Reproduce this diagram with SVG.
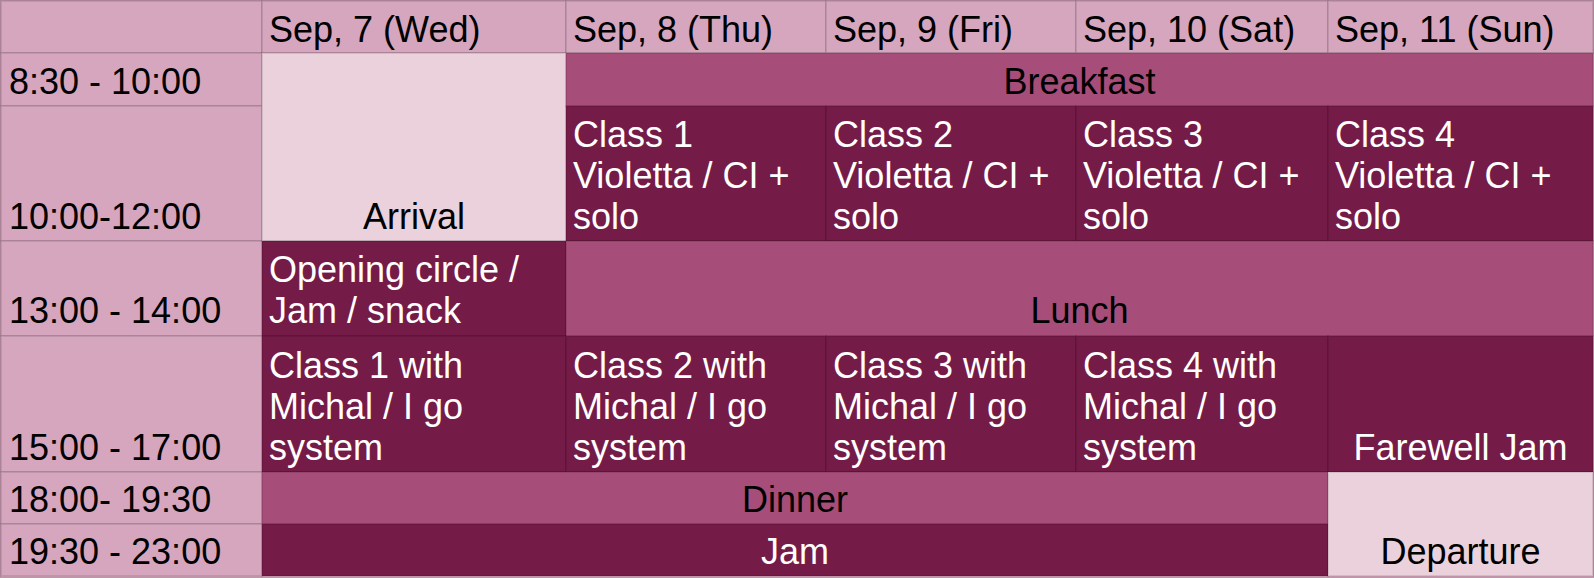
<svg xmlns="http://www.w3.org/2000/svg" width="1594" height="578" viewBox="0 0 1594 578">
<style>
rect{stroke:#000;stroke-opacity:0.1;stroke-width:2}
.h{fill:#d5a6bd}
.l{fill:#ead1dc}
.m{fill:#a64d79}
.d{fill:#741b47}
text{font-family:"Liberation Sans",Arial,sans-serif;font-size:36px;fill:#000}
.w{fill:#fff}
.c{text-anchor:middle}
</style>
<rect x="0" y="0" width="1594" height="578" fill="#d5a6bd" stroke="none"/>
<g id="header">
<rect class="h" x="1" y="1" width="261" height="52"/>
<rect class="h" x="262" y="1" width="304" height="52"/><text x="269" y="42">Sep, 7 (Wed)</text>
<rect class="h" x="566" y="1" width="260" height="52"/><text x="573" y="42">Sep, 8 (Thu)</text>
<rect class="h" x="826" y="1" width="250" height="52"/><text x="833" y="42">Sep, 9 (Fri)</text>
<rect class="h" x="1076" y="1" width="252" height="52"/><text x="1083" y="42">Sep, 10 (Sat)</text>
<rect class="h" x="1328" y="1" width="265" height="52"/><text x="1335" y="42">Sep, 11 (Sun)</text>
</g>
<g id="times">
<rect class="h" x="1" y="53" width="261" height="53"/><text x="9" y="94">8:30 - 10:00</text>
<rect class="h" x="1" y="106" width="261" height="135"/><text x="9" y="229">10:00-12:00</text>
<rect class="h" x="1" y="241" width="261" height="95"/><text x="9" y="323">13:00 - 14:00</text>
<rect class="h" x="1" y="336" width="261" height="136"/><text x="9" y="460">15:00 - 17:00</text>
<rect class="h" x="1" y="472" width="261" height="52"/><text x="9" y="512">18:00- 19:30</text>
<rect class="h" x="1" y="524" width="261" height="52"/><text x="9" y="564">19:30 - 23:00</text>
</g>
<g id="arrival"><rect class="l" x="262" y="53" width="304" height="188"/><text class="c" x="414" y="229">Arrival</text></g>
<g id="breakfast"><rect class="m" x="566" y="53" width="1027" height="53"/><text class="c" x="1079.5" y="94">Breakfast</text></g>
<g id="class1"><rect class="d" x="566" y="106" width="260" height="135"/><text class="w" x="573" y="147">Class 1</text><text class="w" x="573" y="188">Violetta / CI +</text><text class="w" x="573" y="229">solo</text></g>
<g id="class2"><rect class="d" x="826" y="106" width="250" height="135"/><text class="w" x="833" y="147">Class 2</text><text class="w" x="833" y="188">Violetta / CI +</text><text class="w" x="833" y="229">solo</text></g>
<g id="class3"><rect class="d" x="1076" y="106" width="252" height="135"/><text class="w" x="1083" y="147">Class 3</text><text class="w" x="1083" y="188">Violetta / CI +</text><text class="w" x="1083" y="229">solo</text></g>
<g id="class4"><rect class="d" x="1328" y="106" width="265" height="135"/><text class="w" x="1335" y="147">Class 4</text><text class="w" x="1335" y="188">Violetta / CI +</text><text class="w" x="1335" y="229">solo</text></g>
<g id="opening"><rect class="d" x="262" y="241" width="304" height="95"/><text class="w" x="269" y="282">Opening circle /</text><text class="w" x="269" y="323">Jam / snack</text></g>
<g id="lunch"><rect class="m" x="566" y="241" width="1027" height="95"/><text class="c" x="1079.5" y="323">Lunch</text></g>
<g id="michal1"><rect class="d" x="262" y="336" width="304" height="136"/><text class="w" x="269" y="378">Class 1 with</text><text class="w" x="269" y="419">Michal / I go</text><text class="w" x="269" y="460">system</text></g>
<g id="michal2"><rect class="d" x="566" y="336" width="260" height="136"/><text class="w" x="573" y="378">Class 2 with</text><text class="w" x="573" y="419">Michal / I go</text><text class="w" x="573" y="460">system</text></g>
<g id="michal3"><rect class="d" x="826" y="336" width="250" height="136"/><text class="w" x="833" y="378">Class 3 with</text><text class="w" x="833" y="419">Michal / I go</text><text class="w" x="833" y="460">system</text></g>
<g id="michal4"><rect class="d" x="1076" y="336" width="252" height="136"/><text class="w" x="1083" y="378">Class 4 with</text><text class="w" x="1083" y="419">Michal / I go</text><text class="w" x="1083" y="460">system</text></g>
<g id="farewell"><rect class="d" x="1328" y="336" width="265" height="136"/><text class="w c" x="1460.5" y="460">Farewell Jam</text></g>
<g id="dinner"><rect class="m" x="262" y="472" width="1066" height="52"/><text class="c" x="795" y="512">Dinner</text></g>
<g id="jam"><rect class="d" x="262" y="524" width="1066" height="52"/><text class="w c" x="795" y="564">Jam</text></g>
<g id="departure"><rect class="l" x="1328" y="472" width="265" height="104"/><text class="c" x="1460.5" y="564">Departure</text></g>
<g id="connectors"></g>
</svg>
